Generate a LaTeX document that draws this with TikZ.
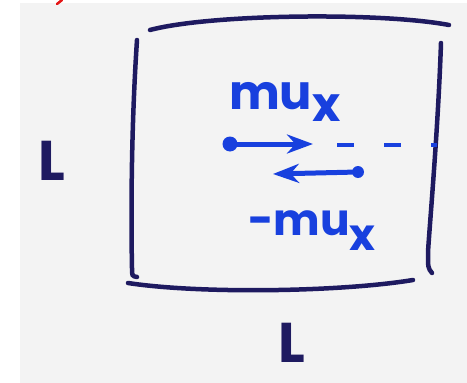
\documentclass[tikz,border=0pt]{standalone}
\usepackage{fontspec}
\setmainfont{Poppins}
\usetikzlibrary{arrows.meta, positioning}
\definecolor{BoardGray}{RGB}{243,243,243}
\definecolor{PenNavy}{RGB}{30,26,96}
\definecolor{PenBlue}{RGB}{24,64,222}
\definecolor{PenRed}{RGB}{228,22,22}
\begin{document}
\begin{tikzpicture}[
    x=1pt, y=-1pt,
    every node/.style={inner sep=0pt, outer sep=0pt},
    wall/.style={draw=PenNavy, line width=4.5pt, line cap=round},
    side/.style={text=PenNavy, font=\fontsize{56}{56}\selectfont\bfseries},
    momentum/.style={text=PenBlue, font=\fontsize{48}{48}\selectfont\bfseries},
    molecule/.style={circle, fill=PenBlue, minimum size=15pt},
    push/.style={draw=PenBlue, line width=5pt, line cap=round,
                 -{Stealth[length=26pt, width=19pt]}}
]
\useasboundingbox (0,0) rectangle (467,383);
\fill[BoardGray] (20,3) rectangle (467,383);
\draw[PenRed, line width=2.5pt, line cap=round] (62,0) -- (57,4);

% box walls
\draw[wall] (150,30) .. controls (210,14) and (380,12) .. (449,25);
\draw[wall] (137,40) .. controls (131,130) and (131,220) .. (132,268) .. controls (132,276) .. (137,277);
\draw[wall] (441,43) .. controls (438,130) and (430,220) .. (428,252) .. controls (428,268) .. (432,273);
\draw[wall] (128,283) .. controls (200,294) and (340,292) .. (413,280);

% side lengths
\node[side, anchor=base west] (lside) at (38,180) {L};
\node[side, anchor=base west] (lbottom) at (278,362) {L};

% molecule before and after the wall
\node[molecule] (m1) at (230,144) {};
\node[molecule, minimum size=12pt] (m2) at (358,172) {};
\coordinate (tip1) at (313,144);
\coordinate (tip2) at (273,174);
\coordinate (trail) at (337,145);
\coordinate (wallhit) at (437,145);
\draw[push] (m1) -- (tip1);
\draw[push] (m2) -- (tip2);
\draw[PenBlue, line width=4pt, dash pattern=on 17pt off 30pt] (trail) -- (wallhit);

\node[momentum, anchor=base west] (pout) at (229,109) {mu\raisebox{-12pt}{x}};
\node[momentum, anchor=base west, font=\fontsize{44}{44}\selectfont\bfseries] (pback) at (248,235) {-mu\raisebox{-15pt}{x}};
\end{tikzpicture}
\end{document}
